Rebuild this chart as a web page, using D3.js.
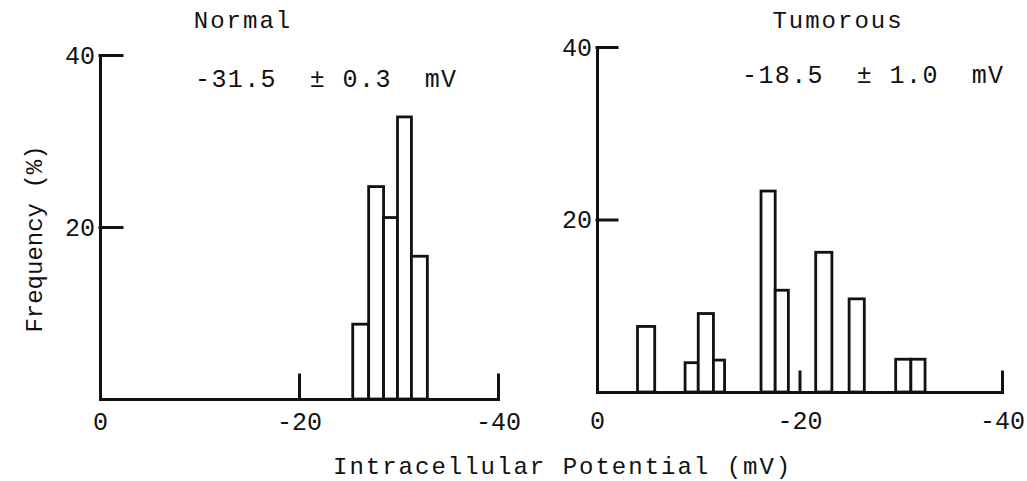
<!DOCTYPE html>
<html>
<head>
<meta charset="utf-8">
<script src="https://cdn.jsdelivr.net/npm/d3@7"></script>
<style>
  body { margin: 0; background: #fff; }
  svg text { font-family: "Liberation Mono", "Courier New", monospace; fill: #111; }
</style>
</head>
<body>
<div id="chart"></div>
<script>
// bin edges in mV, frequency in %
const normalFrom = [-25.4, -27.0, -28.5, -29.9, -31.3];
const normalTo   = [-27.0, -28.5, -29.9, -31.3, -32.9];
const normalFreq = [8.7, 24.7, 21.1, 32.8, 16.6];

const tumorFrom = [-4.0, -8.7, -10.0, -11.5, -16.2, -17.6, -21.6, -24.9, -29.5, -31.0];
const tumorTo   = [-5.7, -10.0, -11.5, -12.6, -17.6, -18.9, -23.2, -26.4, -31.0, -32.4];
const tumorFreq = [7.6, 3.4, 9.1, 3.7, 23.3, 11.8, 16.2, 10.8, 3.8, 3.8];

const xTicks = [0, -20, -40];
const yTicks = [20, 40];

const FONT = '"Liberation Mono", "Courier New", monospace';

class Histogram {
  constructor(config) {
    this.config = config;
    this.init();
  }

  init() {
    const c = this.config;
    this.chart = c.svg.append("g");

    this.xscale = d3.scaleLinear().domain([0, -40]).range([c.left, c.right]);
    this.yscale = d3.scaleLinear().domain([0, 40]).range([c.bottom, c.top]);

    this.bars = this.chart.append("g");
    this.xaxis = this.chart.append("g")
      .attr("transform", `translate(0, ${c.bottom})`);
    this.yaxis = this.chart.append("g")
      .attr("transform", `translate(${c.left}, 0)`);

    // panel title
    this.chart.append("text")
      .attr("x", c.titleX)
      .attr("y", 28)
      .attr("text-anchor", "middle")
      .attr("font-size", 24)
      .attr("letter-spacing", 2)
      .text(c.title);

    // mean +- sem
    this.chart.append("text")
      .attr("x", c.noteX)
      .attr("y", c.noteY)
      .attr("font-size", 25)
      .attr("letter-spacing", 1.4)
      .style("white-space", "pre")
      .text(c.note);
  }

  update(from, to, freq) {
    this.data = freq.map((f, i) => ({from: from[i], to: to[i], value: f}));
    this.render();
  }

  render() {
    const c = this.config;
    const x = this.xscale, y = this.yscale;

    this.bars.selectAll("rect")
      .data(this.data)
      .join("rect")
      .attr("x", d => Math.min(x(d.from), x(d.to)))
      .attr("y", d => y(d.value))
      .attr("width", d => Math.abs(x(d.to) - x(d.from)))
      .attr("height", d => y(0) - y(d.value))
      .attr("fill", "#fff")
      .attr("stroke", "#111")
      .attr("stroke-width", 2.8);

    this.xaxis.call(d3.axisBottom(x)
        .tickValues(xTicks)
        .tickFormat(d => d === 0 ? "0" : "-" + Math.abs(d))
        .tickSize(-c.xTickLen)
        .tickSizeOuter(0)
        .tickPadding(c.xLabelPad));
    this.xaxis.selectAll(".tick line").filter(d => d === 0).remove();

    this.yaxis.call(d3.axisLeft(y)
        .tickValues(yTicks)
        .tickSize(-c.yTickLen)
        .tickSizeOuter(0)
        .tickPadding(5));

    [this.xaxis, this.yaxis].forEach(a => {
      a.attr("font-family", FONT).attr("font-size", 25);
      a.selectAll("path, line")
        .attr("stroke", "#111")
        .attr("stroke-width", 3)
        .attr("stroke-linecap", "square");
    });
  }
}

const svg = d3.select("#chart")
  .append("svg")
  .attr("width", 1027)
  .attr("height", 481);

const normal = new Histogram({
  svg: svg, left: 100, right: 498, top: 55, bottom: 399,
  xTickLen: 24, yTickLen: 22, xLabelPad: 13,
  title: "Normal", titleX: 243,
  note: "-31.5  \u00b1 0.3  mV", noteX: 195, noteY: 87
});
normal.update(normalFrom, normalTo, normalFreq);

const tumor = new Histogram({
  svg: svg, left: 597, right: 1002, top: 47, bottom: 392,
  xTickLen: 20, yTickLen: 20, xLabelPad: 19,
  title: "Tumorous", titleX: 838,
  note: "-18.5  \u00b1 1.0  mV", noteX: 742, noteY: 83
});
tumor.update(tumorFrom, tumorTo, tumorFreq);

// y axis label
svg.append("text")
  .attr("transform", "rotate(-90)")
  .attr("x", -239)
  .attr("y", 42)
  .attr("text-anchor", "middle")
  .attr("font-size", 24)
  .text("Frequency (%)");

// x axis label
svg.append("text")
  .attr("x", 333)
  .attr("y", 474)
  .attr("font-size", 24)
  .attr("letter-spacing", 2)
  .text("Intracellular Potential (mV)");
</script>
</body>
</html>
